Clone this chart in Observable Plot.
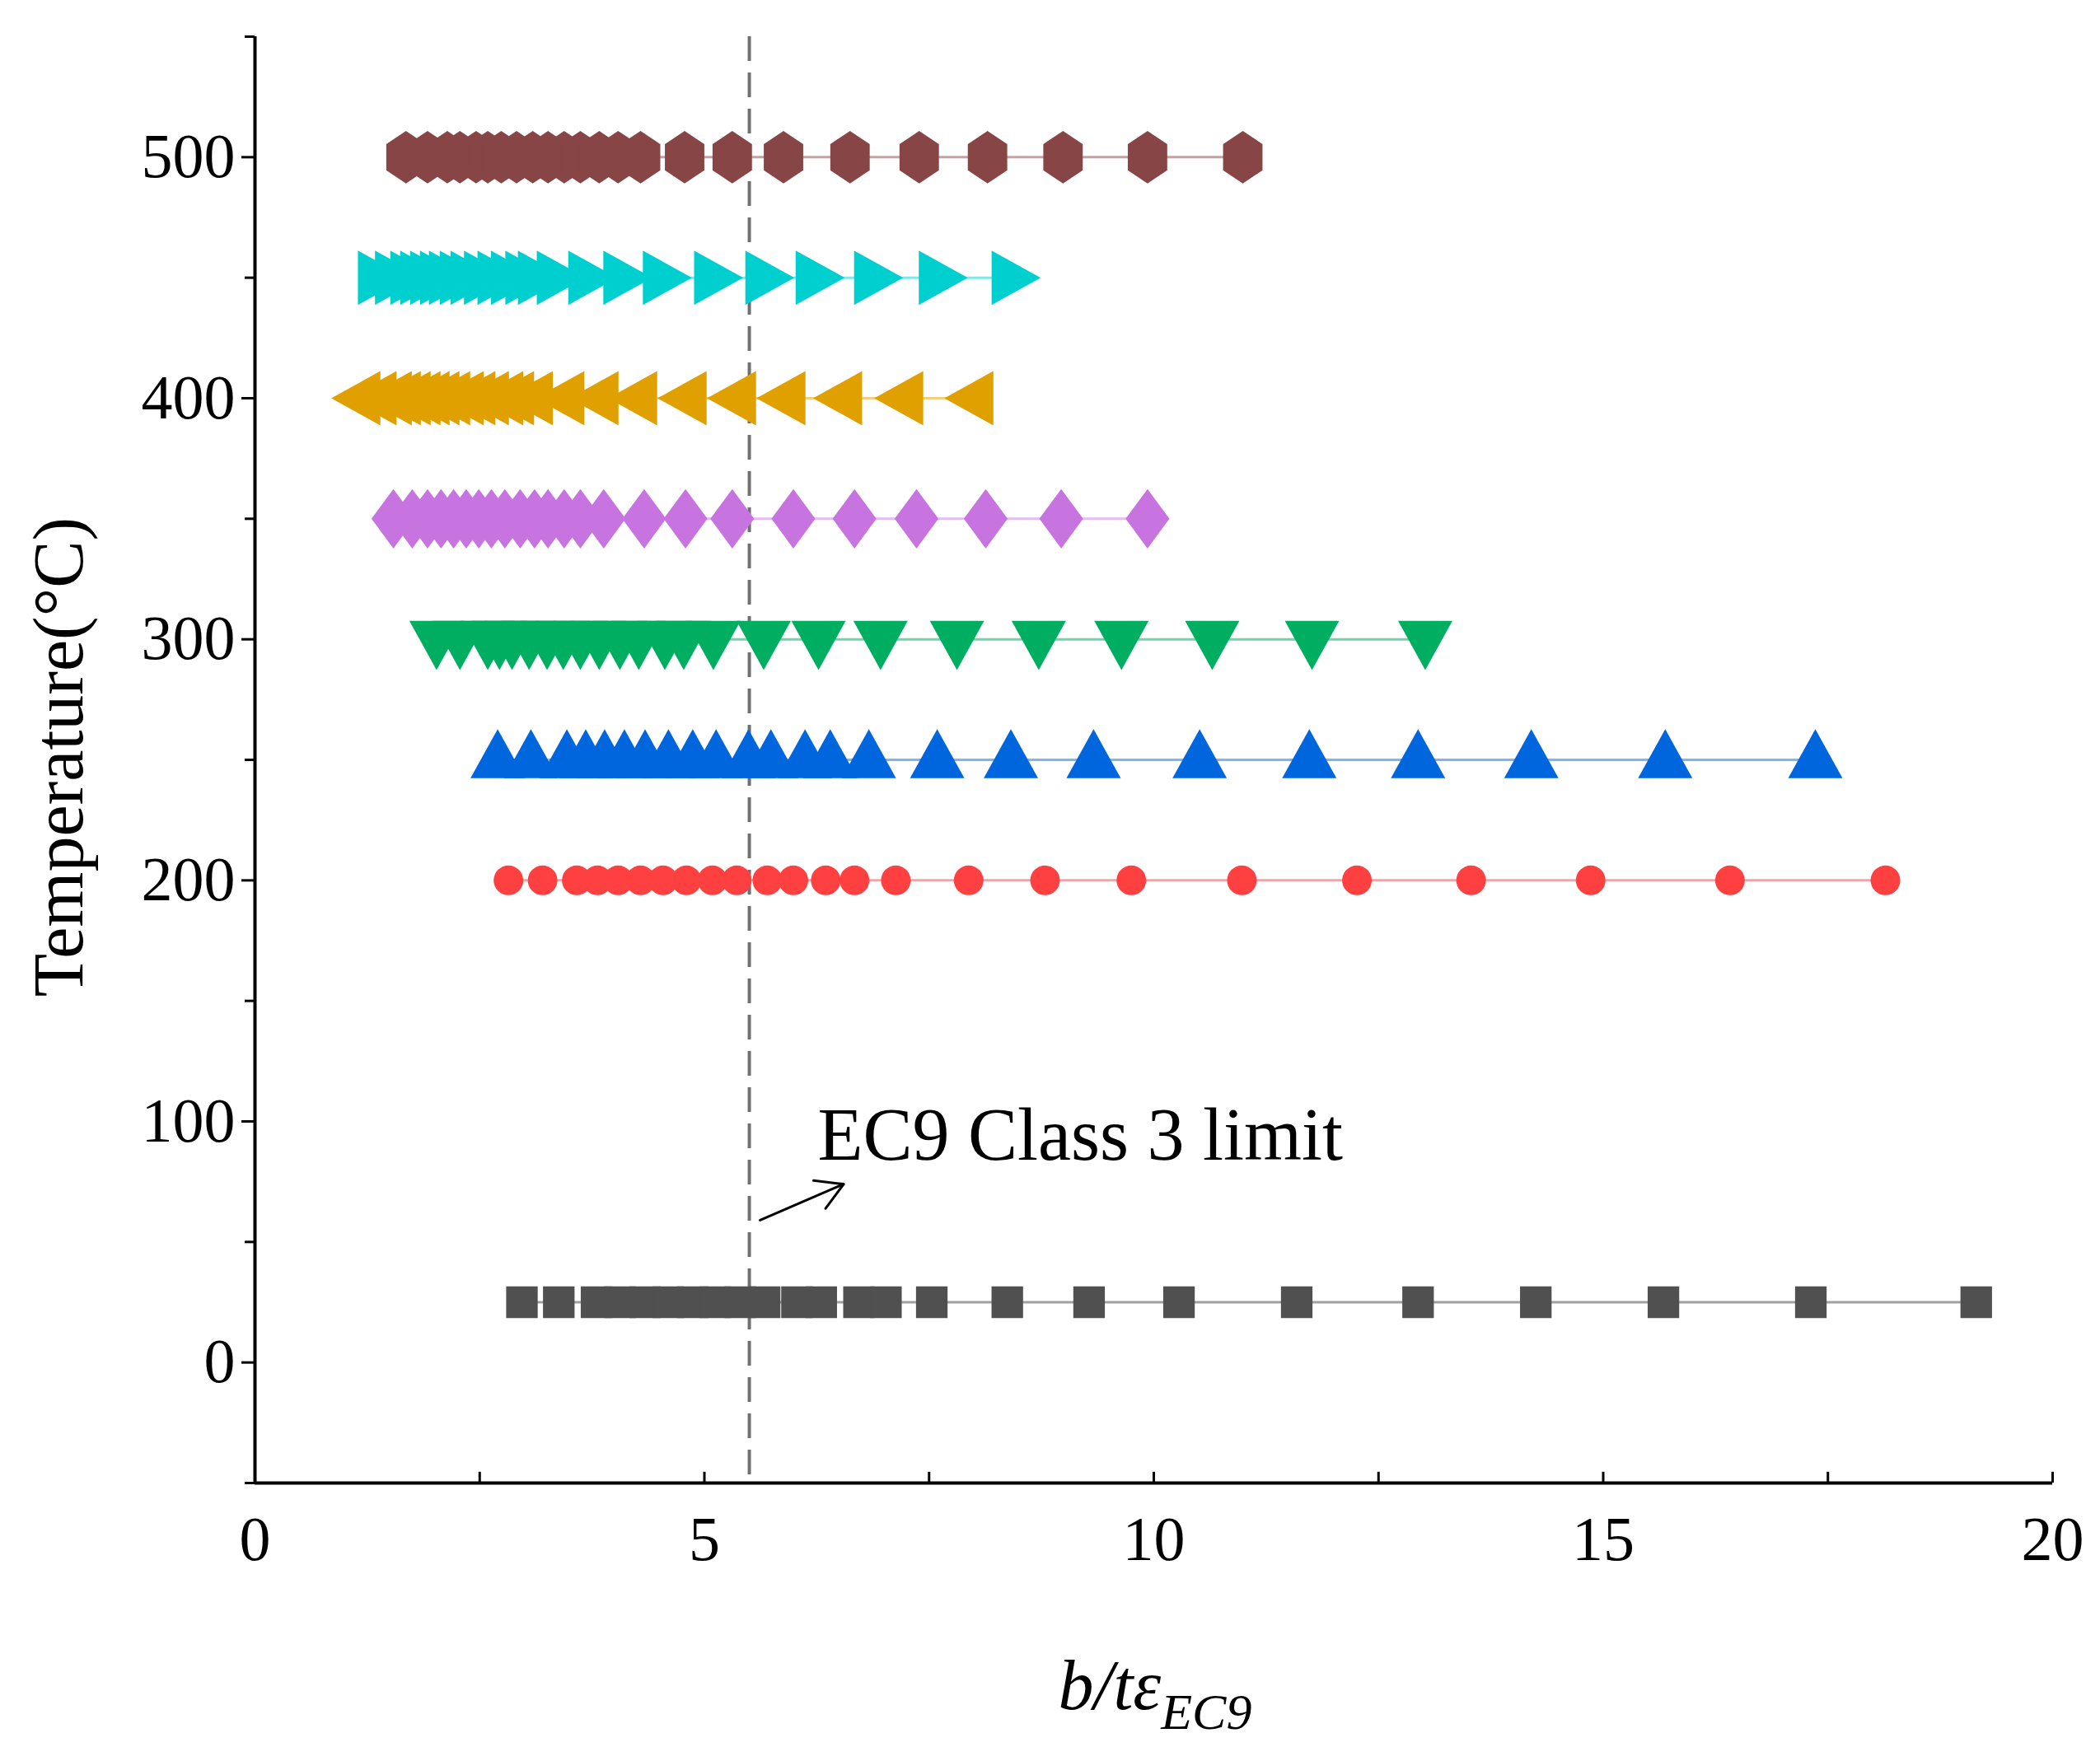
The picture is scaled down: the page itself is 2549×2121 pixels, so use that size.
<!DOCTYPE html>
<html><head><meta charset="utf-8">
<script src="https://cdn.jsdelivr.net/npm/d3@7"></script>
<script src="https://cdn.jsdelivr.net/npm/@observablehq/plot@0.6"></script>
<style>body{margin:0;background:#fff}</style>
</head><body><div id="chart"></div>
<script>
const temps = [25, 200, 250, 300, 350, 400, 450, 500];
const x25  = [2.97,3.38,3.80,4.06,4.34,4.60,4.87,5.12,5.40,5.67,6.03,6.30,6.72,7.02,7.53,8.37,9.28,10.28,11.59,12.94,14.25,15.67,17.31,19.15];
const x200 = [2.82,3.20,3.58,3.81,4.04,4.29,4.54,4.80,5.09,5.36,5.70,5.99,6.35,6.67,7.13,7.94,8.79,9.75,10.98,12.26,13.53,14.86,16.41,18.14];
const x250 = [2.70,3.07,3.47,3.68,3.89,4.11,4.34,4.60,4.87,5.13,5.49,5.74,6.12,6.40,6.83,7.59,8.41,9.33,10.51,11.73,12.94,14.20,15.69,17.36];
const x300 = [2.02,2.28,2.59,2.72,2.86,3.05,3.25,3.43,3.62,3.83,4.06,4.27,4.56,4.77,5.10,5.66,6.27,6.96,7.81,8.72,9.64,10.65,11.76,13.02];
const x350 = [1.54,1.75,1.92,2.07,2.21,2.35,2.49,2.63,2.78,2.95,3.11,3.26,3.44,3.62,3.88,4.33,4.79,5.31,5.99,6.67,7.36,8.13,8.97,9.93];
const x400 = [1.19,1.37,1.54,1.64,1.75,1.86,1.96,2.07,2.19,2.34,2.47,2.62,2.78,2.90,3.11,3.46,3.84,4.27,4.82,5.37,5.92,6.55,7.23,8.01];
const x450 = [1.35,1.54,1.71,1.82,1.93,2.04,2.14,2.26,2.38,2.53,2.68,2.83,2.99,3.13,3.34,3.69,4.08,4.52,5.09,5.66,6.22,6.87,7.59,8.40];
const x500 = [1.68,1.92,2.14,2.28,2.46,2.59,2.74,2.91,3.09,3.26,3.44,3.62,3.83,4.04,4.29,4.78,5.31,5.88,6.62,7.39,8.15,8.99,9.93,10.99];
const colors = ["#505050","#FF4040","#0066DD","#00AE62","#C874E0","#E0A000","#00CFCF","#884545"];
const lineColors = ["#a0a0a0","#ffa0a0","#80b4ee","#70d4a4","#e4bcf0","#f0d080","#80e8e8","#c8a0a0"];
const limitX = 5.5;
const xTicks = [0,5,10,15,20];
const xMinor = [2.5,7.5,12.5,17.5];
const yTicks = [0,100,200,300,400,500];
const yMinor = [-50,50,150,250,350,450,550];

function poly(pts){return {draw(ctx,size){const r=Math.sqrt(size);pts.forEach(([a,b],i)=>{i?ctx.lineTo(a*r,b*r):ctx.moveTo(a*r,b*r)});ctx.closePath();}};}
const symbols = [
  poly([[-0.36,-0.36],[0.36,-0.36],[0.36,0.36],[-0.36,0.36]]),
  d3.symbolCircle,
  poly([[0,-0.7],[0.62,0.42],[-0.62,0.42]]),
  poly([[0,0.7],[0.62,-0.42],[-0.62,-0.42]]),
  poly([[0,-0.68],[0.5,0],[0,0.68],[-0.5,0]]),
  poly([[-0.7,0],[0.42,-0.62],[0.42,0.62]]),
  poly([[0.7,0],[-0.42,-0.62],[-0.42,0.62]]),
  poly([[0,-0.6],[0.45,-0.3],[0.45,0.3],[0,0.6],[-0.45,0.3],[-0.45,-0.3]])
];
const series = [x25,x200,x250,x300,x350,x400,x450,x500];
const marks = [];
series.forEach((xs,i)=>{
  const d = xs.map(v=>({x:v,y:temps[i]}));
  marks.push(Plot.line(d,{x:"x",y:"y",stroke:lineColors[i],strokeWidth:3}));
});
series.forEach((xs,i)=>{
  const d = xs.map(v=>({x:v,y:temps[i]}));
  marks.push(Plot.dot(d,{x:"x",y:"y",r:i===1?18:30,symbol:()=>symbols[i],fill:colors[i],stroke:"none"}));
});
const chart = Plot.plot({
  width:2549,height:2121,
  marginLeft:309,marginRight:58,marginTop:44,marginBottom:321,
  style:{fontFamily:"Liberation Serif",fontSize:"76px",background:"#fff"},
  x:{domain:[0,20]},
  y:{domain:[-50,550]},
  symbol:{type:"identity"},
  marks:[
    Plot.ruleX([limitX],{stroke:"#707070",strokeWidth:4,strokeDasharray:"30,14"}),
    ...marks,
    Plot.text(["EC9 Class 3 limit"],{x:6.26,y:94,text:d=>d,textAnchor:"start",fontSize:90,fill:"#000"}),
    Plot.arrow([{x1:5.62,y1:59,x2:6.55,y2:74}],{x1:"x1",y1:"y1",x2:"x2",y2:"y2",stroke:"#000",strokeWidth:3,headLength:24}),
    Plot.ruleX([...xTicks,...xMinor],{y1:-50,y2:-45.5,stroke:"#000",strokeWidth:3}),
    Plot.axisX({ticks:xTicks,tickSize:0,tickPadding:40,label:null,fontSize:76}),
    Plot.axisY({ticks:yTicks,tickSize:16,strokeWidth:3,tickPadding:8,label:null,fontSize:76}),
    Plot.axisY({ticks:yMinor,tickSize:12,strokeWidth:3,tickFormat:()=>"",label:null}),
    Plot.ruleY([-50],{stroke:"#000",strokeWidth:4}),
    Plot.ruleX([0],{stroke:"#000",strokeWidth:4})
  ]
});
const svg = d3.select(chart);
svg.append("text").attr("x",1402).attr("y",2075).attr("text-anchor","middle")
  .attr("font-family","Liberation Serif").attr("font-size",86).attr("font-style","italic")
  .call(t=>{t.append("tspan").text("b/t\u03B5");t.append("tspan").attr("font-size",62).attr("dy",24).text("EC9");});
svg.append("text").attr("transform","translate(100,919) rotate(-90)").attr("text-anchor","middle")
  .attr("font-family","Liberation Serif").attr("font-size",86).text("Temperature(\u00B0C)");
document.getElementById("chart").appendChild(chart);
</script></body></html>
